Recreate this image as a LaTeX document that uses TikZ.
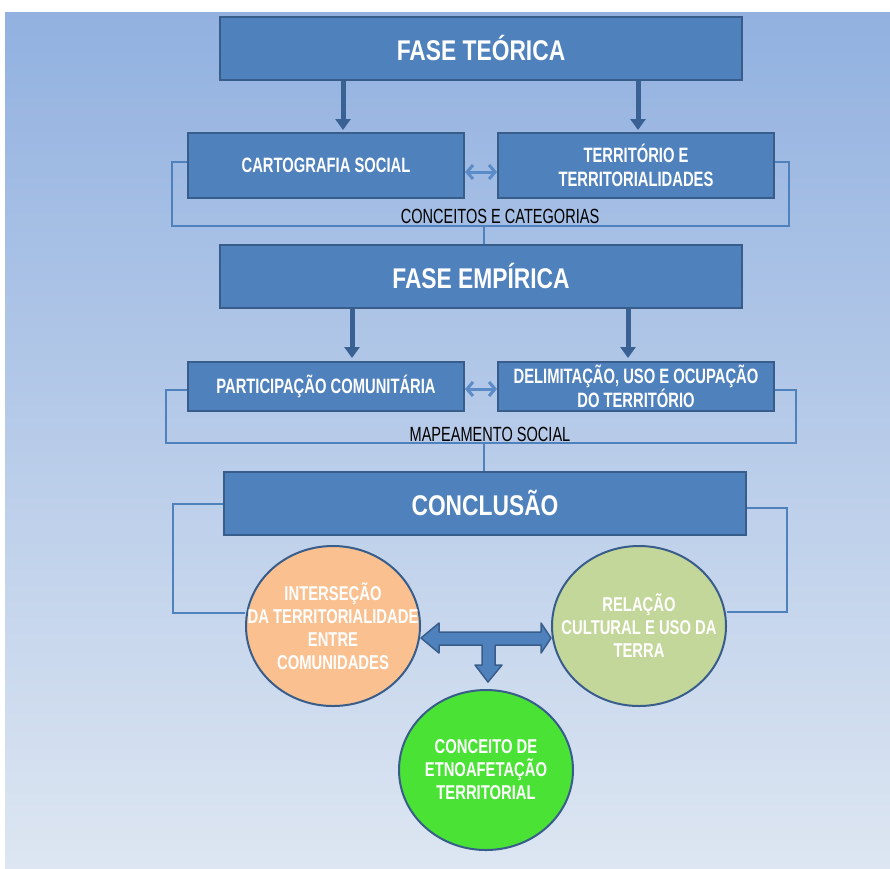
\documentclass[tikz,border=0pt]{standalone}
\usepackage{fontspec}
\setmainfont{Liberation Sans}[FakeStretch=0.8]
\newfontfamily\narrowfont{Liberation Sans}[FakeStretch=0.71]
\newfontfamily\midfont{Liberation Sans}[FakeStretch=0.74]
\usetikzlibrary{arrows.meta,shapes.geometric}
\definecolor{boxfill}{HTML}{4F81BD}
\definecolor{boxline}{HTML}{385D8A}
\definecolor{arrowdark}{HTML}{3A6194}
\definecolor{lightarrow}{HTML}{5B8CC8}
\definecolor{bgtop}{HTML}{92B1E0}
\definecolor{bgbot}{HTML}{DDE6F2}
\definecolor{orangefill}{HTML}{FAC090}
\definecolor{greenlight}{HTML}{C4D79B}
\definecolor{greenbright}{HTML}{4BE236}
\tikzset{
  phase/.style={draw=boxline, line width=2pt, fill=boxfill, minimum width=522pt, minimum height=63pt, text=white, font=\bfseries\fontsize{28.5}{30}\selectfont},
  sub/.style={draw=boxline, line width=2pt, fill=boxfill, minimum width=276pt, text=white, font=\narrowfont\bfseries\fontsize{20.8}{24}\selectfont, align=center},
  down/.style={arrowdark, line width=5pt, -{Triangle[width=15pt,length=11pt]}},
  twoway/.style={lightarrow, line width=3pt, {Straight Barb[length=6pt,width=14pt]}-{Straight Barb[length=6pt,width=14pt]}},
  bracket/.style={boxfill, line width=2.5pt},
  circ/.style={ellipse, draw=boxline, line width=2pt, minimum width=174pt, minimum height=160pt, inner sep=0pt},
  circtext/.style={text=white, font=\midfont\bfseries\fontsize{20}{23}\selectfont, align=center},
  lbl/.style={font=\narrowfont\fontsize{20.5}{22}\selectfont, text=black}
}
\begin{document}
\begin{tikzpicture}[x=1pt,y=-1pt]
\useasboundingbox (0,0) rectangle (890,868);
\fill[white] (0,0) rectangle (890,868);
\shade[top color=bgtop, bottom color=bgbot] (5,12) rectangle (890,868);

% phases
\node[phase] (teo) at (481,48) {FASE TEÓRICA};
\node[sub, minimum height=65pt] (carto) at (326,165.5) {CARTOGRAFIA SOCIAL};
\node[sub, minimum height=65pt] (terr) at (636,165.5) {TERRITÓRIO E\\TERRITORIALIDADES};
\node[phase] (emp) at (481,276) {FASE EMPÍRICA};
\node[sub, minimum height=49pt] (part) at (326,386.5) {PARTICIPAÇÃO COMUNITÁRIA};
\node[sub, minimum height=49pt] (delim) at (636,386.5) {DELIMITAÇÃO, USO E OCUPAÇÃO\\DO TERRITÓRIO};
\node[phase] (conc) at (485,503) {CONCLUSÃO};

% circles
\node[circ, fill=orangefill] (inter) at (333,626) {};
\node[circtext] (intertext) at (inter.center) {INTERSEÇÃO\\DA TERRITORIALIDADE\\ENTRE\\COMUNIDADES};
\node[circ, fill=greenlight] (rel) at (639,626) {};
\node[circtext] (reltext) at (rel.center) {RELAÇÃO\\CULTURAL E USO DA\\TERRA};
\node[circ, fill=greenbright] (etno) at (486,770) {};
\node[circtext] (etnotext) at (etno.center) {CONCEITO DE\\ETNOAFETAÇÃO\\TERRITORIAL};

% down arrows
\coordinate (a1) at (343,130);
\coordinate (a2) at (638,130);
\coordinate (a3) at (352,358);
\coordinate (a4) at (628,358);
\draw[down] (teo.south -| a1) -- (a1);
\draw[down] (teo.south -| a2) -- (a2);
\draw[down] (emp.south -| a3) -- (a3);
\draw[down] (emp.south -| a4) -- (a4);

% two-way arrows
\draw[twoway] (carto.east |- 0,172) -- (terr.west |- 0,172);
\draw[twoway] (part.east |- 0,389) -- (delim.west |- 0,389);

% brackets
\coordinate (b1) at (172,226);
\coordinate (b2) at (789,226);
\draw[bracket] (carto.west |- 0,162) -| (b1) -- (b2) |- (terr.east |- 0,162);
\coordinate (m1) at (484,226);
\draw[bracket] (m1) -- (m1 |- emp.north);
\node[lbl] (cc) at (500,216) {CONCEITOS E CATEGORIAS};

\coordinate (c1) at (166,443);
\coordinate (c2) at (796,443);
\draw[bracket] (part.west |- 0,390) -| (c1) -- (c2) |- (delim.east |- 0,390);
\coordinate (m2) at (484,443);
\draw[bracket] (m2) -- (m2 |- conc.north);
\node[lbl] (ms) at (490,434) {MAPEAMENTO SOCIAL};

\coordinate (d1) at (173,613);
\coordinate (d2) at (787,612);
\draw[bracket] (conc.west |- 0,504) -| (d1) -- (inter.west |- 0,613);
\draw[bracket] (conc.east |- 0,508) -| (d2) -- (rel.east |- 0,612);

% T-shaped block arrow
\draw[boxline, line width=1.5pt, fill=boxfill, line join=round]
  (inter.east |- 0,638) -- (439,623) -- (439,632) -- (541,632) -- (541,623)
  -- (rel.west |- 0,638) -- (541,653) -- (541,645) -- (495,645) -- (495,665)
  -- (502,665) -- (488,682) -- (475,665) -- (482,665) -- (482,645)
  -- (439,645) -- (439,653) -- cycle;
\end{tikzpicture}
\end{document}
